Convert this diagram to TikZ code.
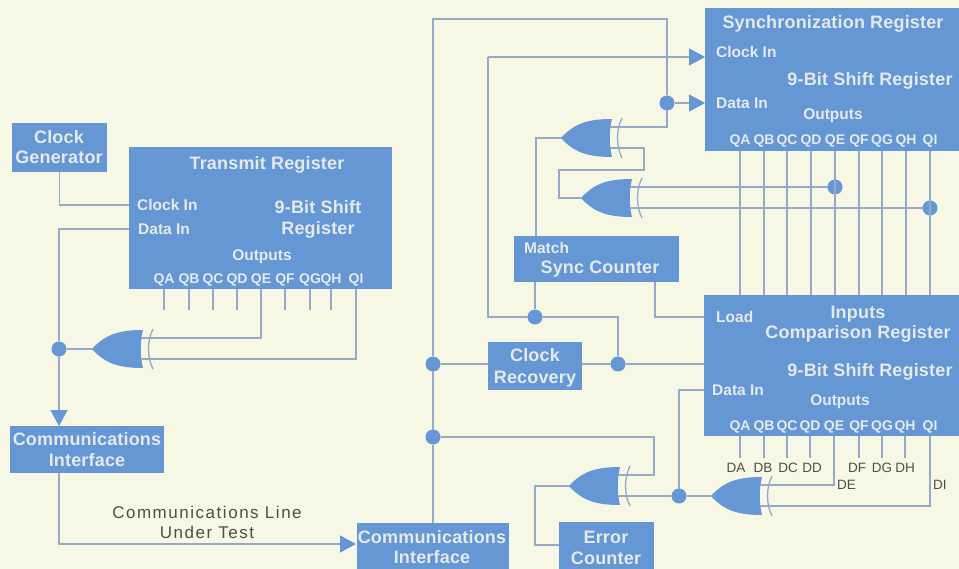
\documentclass[tikz,border=0pt]{standalone}
\usepackage{fontspec}
\setmainfont{Liberation Sans}
\usetikzlibrary{scopes,arrows.meta}
\definecolor{paper}{RGB}{246,247,228}
\definecolor{blockblue}{RGB}{100,151,212}
\definecolor{wireblue}{RGB}{148,170,200}
\definecolor{blocktext}{RGB}{228,234,232}
\definecolor{inktext}{RGB}{78,80,72}

\begin{document}
\begin{tikzpicture}[
  x=1pt, y=-1pt,
  block/.style={fill=blockblue, inner sep=0pt, outer sep=0pt},
  title/.style={text=blocktext, font=\fontsize{18}{18}\selectfont\addfontfeature{LetterSpace=1}\bfseries, inner sep=0pt, text height=13pt, text depth=0pt},
  pinlabel/.style={text=blocktext, font=\fontsize{15.5}{16}\selectfont\bfseries, inner sep=0pt, text height=11pt, text depth=0pt},
  qlabel/.style={text=blocktext, font=\fontsize{14}{14}\selectfont\bfseries, inner sep=0pt, text height=10pt, text depth=0pt},
  dlabel/.style={text=inktext, font=\fontsize{13.5}{14}\selectfont, inner sep=0pt, text height=10pt, text depth=0pt},
  linelabel/.style={text=inktext, font=\fontsize{17}{17}\selectfont\addfontfeature{LetterSpace=9}, inner sep=0pt, text height=12pt, text depth=0pt},
  wire/.style={draw=wireblue, line width=1.3pt},
  feed/.style={wire, -{Triangle[length=16pt, width=17pt, color=blockblue]}},
  joint/.style={circle, fill=blockblue, minimum size=15pt, inner sep=0pt, outer sep=0pt},
  xorgate/.pic={
    \coordinate (-tip) at (0,0);
    \coordinate (-a) at (49,-11);
    \coordinate (-b) at (49,10);
    \fill[blockblue] (0,0) .. controls (12,-13) and (24,-19) .. (51,-19)
      .. controls (48,-7) and (48,7) .. (51,19)
      .. controls (24,19) and (12,13) .. (0,0);
    \draw[wire] (61,-20) .. controls (55,-8) and (55,8) .. (61,20);
  },
  ]
  \useasboundingbox (0,0) rectangle (959,569);
  \fill[paper] (0,0) rectangle (959,569);

  % Blocks
  \node[block, minimum width=95pt, minimum height=49pt] (clkgen) at (59.5,147.5) {};
  \node[block, minimum width=263pt, minimum height=142pt] (xmit) at (260.5,218) {};
  \node[block, minimum width=154pt, minimum height=47pt] (commL) at (87,449.5) {};
  \node[block, minimum width=152pt, minimum height=46pt] (commR) at (433,546) {};
  \node[block, minimum width=254pt, minimum height=143pt] (sync) at (832,79.5) {};
  \node[block, minimum width=165pt, minimum height=46pt] (synccnt) at (596,259) {};
  \node[block, minimum width=255pt, minimum height=141pt] (comp) at (831.5,365.5) {};
  \node[block, minimum width=94pt, minimum height=48pt] (clkrec) at (535,366) {};
  \node[block, minimum width=95pt, minimum height=47pt] (errcnt) at (606.5,545.5) {};

  % Block titles
  \node[title] (tclkgenA) at (59,137) {Clock};
  \node[title] (tclkgenB) at (59,157) {Generator};
  \node[title] (txmit) at (267,163) {Transmit Register};
  \node[title] (txmitA) at (318,207) {9-Bit Shift};
  \node[title] (txmitB) at (318,228) {Register};
  \node[title] (tcommLA) at (87,439) {Communications};
  \node[title] (tcommLB) at (87,460) {Interface};
  \node[title] (tcommRA) at (432,537) {Communications};
  \node[title] (tcommRB) at (432,557) {Interface};
  \node[title] (tsync) at (833,22) {Synchronization Register};
  \node[title] (tsyncA) at (870,79) {9-Bit Shift Register};
  \node[title] (tcnt) at (600,267) {Sync Counter};
  \node[title] (tinputs) at (858,312) {Inputs};
  \node[title] (tcomp) at (858,332) {Comparison Register};
  \node[title] (tcompA) at (870,370) {9-Bit Shift Register};
  \node[title] (trecA) at (535,355) {Clock};
  \node[title] (trecB) at (535,377) {Recovery};
  \node[title] (terrA) at (606,537) {Error};
  \node[title] (terrB) at (606,558) {Counter};

  % Pin labels
  \node[pinlabel, anchor=west] (xclk) at (137,205) {Clock In};
  \node[pinlabel, anchor=west] (xdata) at (138,229) {Data In};
  \node[pinlabel] (xout) at (262,255) {Outputs};
  \node[pinlabel, anchor=west] (sclk) at (716,52) {Clock In};
  \node[pinlabel, anchor=west] (sdata) at (716,103) {Data In};
  \node[pinlabel] (sout) at (833,114) {Outputs};
  \node[pinlabel, anchor=west] (cmatch) at (524,248) {Match};
  \node[pinlabel, anchor=west] (cload) at (716,317) {Load};
  \node[pinlabel, anchor=west] (cdata) at (712,390) {Data In};
  \node[pinlabel] (cout) at (840,400) {Outputs};

  % Register outputs
  \foreach \lbl/\xx in {A/164,B/189,C/213,D/237,E/261,F/285,G/310,H/331,I/356}
    \node[qlabel] (xq\lbl) at (\xx,279) {Q\lbl};
  \foreach \lbl/\xx in {A/740,B/764,C/787,D/811,E/835,F/859,G/882,H/906,I/930}
    \node[qlabel] (sq\lbl) at (\xx,140) {Q\lbl};
  \foreach \lbl/\xx in {A/740,B/764,C/787,D/810,E/834,F/859,G/882,H/905,I/930}
    \node[qlabel] (cq\lbl) at (\xx,425) {Q\lbl};

  % Comparison data labels
  \foreach \lbl/\xx in {A/736,B/763,C/788,D/812,F/857,G/882,H/905}
    \node[dlabel] (cd\lbl) at (\xx,467) {D\lbl};
  \node[dlabel, anchor=west] (cdE) at (837,484) {DE};
  \node[dlabel, anchor=west] (cdI) at (933,484) {DI};

  % Gates
  \pic (gxmit) at (92,349) {xorgate};
  \pic (gsyncA) at (561,138) {xorgate};
  \pic (gsyncB) at (581,198) {xorgate};
  \pic (gerr) at (569,486) {xorgate};
  \pic (gcomp) at (711,496) {xorgate};

  % Joints
  \node[joint] (xdot) at (59,349) {};
  \node[joint] (datadot) at (667,103) {};
  \node[joint] (edot) at (sqE |- gsyncB-a) {};
  \node[joint] (idot) at (sqI |- gsyncB-b) {};
  \node[joint] (syncdot) at (535,317) {};
  \node[joint] (recdot) at (433,364) {};
  \node[joint] (ckdot) at (618,364) {};
  \node[joint] (ifdot) at (433,437) {};
  \node[joint] (errdot) at (679,496) {};

  % Corners
  \coordinate (overtop) at (667,19);
  \coordinate (clkleft) at (488,57);
  \coordinate (loopA) at (644,170);
  \coordinate (loopB) at (559,170);
  \coordinate (matchup) at (536,236);
  \coordinate (cntout) at (655,282);
  \coordinate (errtop) at (654,437);
  \coordinate (errleft) at (535,545);
  \coordinate (linein) at (356,544);

  {[wire]
    % Transmit side
    \draw (clkgen.south) |- (xmit.west |- xclk.west);
    \draw (xmit.west |- xdata.west) -| (xdot);
    \draw (xdot) -- (gxmit-tip);
    \draw (xmit.south -| xqE) |- (gxmit-a);
    \draw (xmit.south -| xqI) |- (gxmit-b);
    \foreach \lbl in {A,B,C,D,F,G,H}
      \draw (xmit.south -| xq\lbl) -- ++(0,21);

    % Synchronization side
    \draw (commR.north) -- (ifdot);
    \draw (ifdot) -- (recdot);
    \draw (recdot) |- (overtop) -- (datadot);
    \draw (datadot) |- (gsyncA-a);
    \draw (gsyncA-b) -| (loopA) -- (loopB) |- (gsyncB-tip);
    \draw (matchup) |- (gsyncA-tip);
    \draw (gsyncB-a) -- (edot);
    \draw (gsyncB-b) -- (idot);
    \foreach \lbl in {A,B,C,D,E,F,G,H,I}
      \draw (sync.south -| sq\lbl) -- (comp.north -| sq\lbl);

    % Clock recovery and load
    \draw (recdot) -- (clkrec.west |- recdot);
    \draw (clkrec.east |- ckdot) -- (ckdot);
    \draw (ckdot) -- (comp.west |- ckdot);
    \draw (ckdot) |- (syncdot);
    \draw (syncdot) -| (clkleft);
    \draw (syncdot) -- (synccnt.south -| syncdot);
    \draw (cntout) |- (comp.west |- cload.west);

    % Comparison side
    \draw (ifdot) -- (errtop) |- (gerr-a);
    \draw (gerr-b) -- (errdot);
    \draw (errdot) -- (gcomp-tip);
    \draw (errdot) |- (comp.west |- cdata.west);
    \draw (errcnt.west |- errleft) -- (errleft) |- (gerr-tip);
    \draw (comp.south -| cqE) |- (gcomp-a);
    \draw (comp.south -| cqI) |- (gcomp-b);
    \foreach \lbl in {A,B,C,D,F,G,H}
      \draw (comp.south -| cq\lbl) -- ++(0,22);
  }

  % Arrows
  \draw[feed] (xdot) -- (commL.north -| xdot);
  \draw[feed] (commL.south -| xdot) |- (linein);
  \draw[feed] (clkleft) -- (sync.west |- clkleft);
  \draw[feed] (datadot) -- (sync.west |- datadot);

  \node[linelabel] (tlineA) at (207,512) {Communications Line};
  \node[linelabel] (tlineB) at (207,532) {Under Test};
\end{tikzpicture}
\end{document}
